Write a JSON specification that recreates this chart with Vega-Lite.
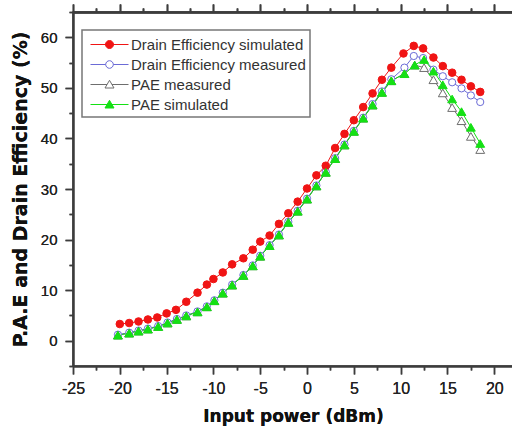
{
  "$schema": "https://vega.github.io/schema/vega-lite/v6.json",
  "width": 440,
  "height": 354,
  "autosize": {"type": "none"},
  "padding": {"left": 73, "top": 12, "right": 0, "bottom": 68},
  "background": "white",
  "config": {"view": {"stroke": "#444444", "strokeWidth": 1.5}, "font": "Liberation Sans"},
  "datasets": {
    "pts": [
      {"s": "Drain Efficiency measured", "x": -20.2, "y": 1.2}, {"s": "Drain Efficiency measured", "x": -19, "y": 1.6}, {"s": "Drain Efficiency measured", "x": -18, "y": 2.0}, {"s": "Drain Efficiency measured", "x": -17, "y": 2.4}, {"s": "Drain Efficiency measured", "x": -15.9, "y": 2.9}, {"s": "Drain Efficiency measured", "x": -14.9, "y": 3.6}, {"s": "Drain Efficiency measured", "x": -13.9, "y": 4.3}, {"s": "Drain Efficiency measured", "x": -12.9, "y": 5.0}, {"s": "Drain Efficiency measured", "x": -11.7, "y": 5.8}, {"s": "Drain Efficiency measured", "x": -10.7, "y": 6.8}, {"s": "Drain Efficiency measured", "x": -9.9, "y": 8.0}, {"s": "Drain Efficiency measured", "x": -9, "y": 9.5}, {"s": "Drain Efficiency measured", "x": -8, "y": 11.1}, {"s": "Drain Efficiency measured", "x": -6.8, "y": 13.0}, {"s": "Drain Efficiency measured", "x": -5.8, "y": 14.9}, {"s": "Drain Efficiency measured", "x": -5, "y": 16.8}, {"s": "Drain Efficiency measured", "x": -4, "y": 18.9}, {"s": "Drain Efficiency measured", "x": -3, "y": 21.0}, {"s": "Drain Efficiency measured", "x": -2, "y": 23.5}, {"s": "Drain Efficiency measured", "x": -1, "y": 25.7}, {"s": "Drain Efficiency measured", "x": 0, "y": 28.1}, {"s": "Drain Efficiency measured", "x": 1, "y": 30.7}, {"s": "Drain Efficiency measured", "x": 2, "y": 33.4}, {"s": "Drain Efficiency measured", "x": 3, "y": 36.1}, {"s": "Drain Efficiency measured", "x": 4, "y": 38.8}, {"s": "Drain Efficiency measured", "x": 5, "y": 41.5}, {"s": "Drain Efficiency measured", "x": 6, "y": 44.1}, {"s": "Drain Efficiency measured", "x": 7, "y": 46.8}, {"s": "Drain Efficiency measured", "x": 8, "y": 49.3}, {"s": "Drain Efficiency measured", "x": 9, "y": 51.7}, {"s": "Drain Efficiency measured", "x": 10.4, "y": 54.0}, {"s": "Drain Efficiency measured", "x": 11.4, "y": 56.3}, {"s": "Drain Efficiency measured", "x": 12.4, "y": 55.9}, {"s": "Drain Efficiency measured", "x": 13.5, "y": 53.6}, {"s": "Drain Efficiency measured", "x": 14.5, "y": 52.3}, {"s": "Drain Efficiency measured", "x": 15.5, "y": 51.1}, {"s": "Drain Efficiency measured", "x": 16.5, "y": 49.9}, {"s": "Drain Efficiency measured", "x": 17.5, "y": 48.5}, {"s": "Drain Efficiency measured", "x": 18.5, "y": 47.2},

      {"s": "PAE measured", "x": -20.2, "y": 1.1}, {"s": "PAE measured", "x": -19, "y": 1.5}, {"s": "PAE measured", "x": -18, "y": 1.9}, {"s": "PAE measured", "x": -17, "y": 2.3}, {"s": "PAE measured", "x": -15.9, "y": 2.8}, {"s": "PAE measured", "x": -14.9, "y": 3.5}, {"s": "PAE measured", "x": -13.9, "y": 4.2}, {"s": "PAE measured", "x": -12.9, "y": 4.9}, {"s": "PAE measured", "x": -11.7, "y": 5.7}, {"s": "PAE measured", "x": -10.7, "y": 6.7}, {"s": "PAE measured", "x": -9.9, "y": 7.9}, {"s": "PAE measured", "x": -9, "y": 9.4}, {"s": "PAE measured", "x": -8, "y": 11.0}, {"s": "PAE measured", "x": -6.8, "y": 12.9}, {"s": "PAE measured", "x": -5.8, "y": 14.8}, {"s": "PAE measured", "x": -5, "y": 16.7}, {"s": "PAE measured", "x": -4, "y": 18.8}, {"s": "PAE measured", "x": -3, "y": 20.9}, {"s": "PAE measured", "x": -2, "y": 23.4}, {"s": "PAE measured", "x": -1, "y": 25.6}, {"s": "PAE measured", "x": 0, "y": 28.0}, {"s": "PAE measured", "x": 1, "y": 30.6}, {"s": "PAE measured", "x": 2, "y": 33.3}, {"s": "PAE measured", "x": 3, "y": 36.0}, {"s": "PAE measured", "x": 4, "y": 38.7}, {"s": "PAE measured", "x": 5, "y": 41.4}, {"s": "PAE measured", "x": 6, "y": 44.0}, {"s": "PAE measured", "x": 7, "y": 46.6}, {"s": "PAE measured", "x": 8, "y": 49.1}, {"s": "PAE measured", "x": 9, "y": 51.4}, {"s": "PAE measured", "x": 10.4, "y": 52.8}, {"s": "PAE measured", "x": 11.5, "y": 54.5}, {"s": "PAE measured", "x": 12.5, "y": 54.0}, {"s": "PAE measured", "x": 13.5, "y": 51.6}, {"s": "PAE measured", "x": 14.5, "y": 49.0}, {"s": "PAE measured", "x": 15.5, "y": 46.1}, {"s": "PAE measured", "x": 16.5, "y": 43.5}, {"s": "PAE measured", "x": 17.5, "y": 40.4}, {"s": "PAE measured", "x": 18.5, "y": 37.8},

      {"s": "Drain Efficiency simulated", "x": -20, "y": 3.3}, {"s": "Drain Efficiency simulated", "x": -19, "y": 3.5}, {"s": "Drain Efficiency simulated", "x": -18, "y": 3.8}, {"s": "Drain Efficiency simulated", "x": -17, "y": 4.2}, {"s": "Drain Efficiency simulated", "x": -16, "y": 4.6}, {"s": "Drain Efficiency simulated", "x": -15, "y": 5.4}, {"s": "Drain Efficiency simulated", "x": -14, "y": 6.1}, {"s": "Drain Efficiency simulated", "x": -12.9, "y": 7.7}, {"s": "Drain Efficiency simulated", "x": -11.7, "y": 9.5}, {"s": "Drain Efficiency simulated", "x": -10.7, "y": 11.1}, {"s": "Drain Efficiency simulated", "x": -10, "y": 12.2}, {"s": "Drain Efficiency simulated", "x": -9, "y": 13.5}, {"s": "Drain Efficiency simulated", "x": -8, "y": 15.1}, {"s": "Drain Efficiency simulated", "x": -6.8, "y": 16.3}, {"s": "Drain Efficiency simulated", "x": -5.8, "y": 18.0}, {"s": "Drain Efficiency simulated", "x": -5, "y": 19.6}, {"s": "Drain Efficiency simulated", "x": -4, "y": 20.8}, {"s": "Drain Efficiency simulated", "x": -3, "y": 23.1}, {"s": "Drain Efficiency simulated", "x": -2, "y": 25.2}, {"s": "Drain Efficiency simulated", "x": -1, "y": 27.5}, {"s": "Drain Efficiency simulated", "x": 0, "y": 30.1}, {"s": "Drain Efficiency simulated", "x": 1, "y": 32.7}, {"s": "Drain Efficiency simulated", "x": 2, "y": 34.6}, {"s": "Drain Efficiency simulated", "x": 3, "y": 38.1}, {"s": "Drain Efficiency simulated", "x": 4, "y": 40.9}, {"s": "Drain Efficiency simulated", "x": 5, "y": 43.6}, {"s": "Drain Efficiency simulated", "x": 6, "y": 46.2}, {"s": "Drain Efficiency simulated", "x": 7, "y": 48.9}, {"s": "Drain Efficiency simulated", "x": 8, "y": 51.6}, {"s": "Drain Efficiency simulated", "x": 9, "y": 54.0}, {"s": "Drain Efficiency simulated", "x": 10.3, "y": 56.8}, {"s": "Drain Efficiency simulated", "x": 11.4, "y": 58.3}, {"s": "Drain Efficiency simulated", "x": 12.4, "y": 57.8}, {"s": "Drain Efficiency simulated", "x": 13.5, "y": 56.0}, {"s": "Drain Efficiency simulated", "x": 14.5, "y": 54.3}, {"s": "Drain Efficiency simulated", "x": 15.5, "y": 53.0}, {"s": "Drain Efficiency simulated", "x": 16.5, "y": 51.6}, {"s": "Drain Efficiency simulated", "x": 17.5, "y": 50.3}, {"s": "Drain Efficiency simulated", "x": 18.5, "y": 49.2},

      {"s": "PAE simulated", "x": -20.2, "y": 1.1}, {"s": "PAE simulated", "x": -19, "y": 1.5}, {"s": "PAE simulated", "x": -18, "y": 1.9}, {"s": "PAE simulated", "x": -17, "y": 2.3}, {"s": "PAE simulated", "x": -15.9, "y": 2.8}, {"s": "PAE simulated", "x": -14.9, "y": 3.5}, {"s": "PAE simulated", "x": -13.9, "y": 4.2}, {"s": "PAE simulated", "x": -12.9, "y": 4.9}, {"s": "PAE simulated", "x": -11.7, "y": 5.7}, {"s": "PAE simulated", "x": -10.7, "y": 6.7}, {"s": "PAE simulated", "x": -9.9, "y": 7.9}, {"s": "PAE simulated", "x": -9, "y": 9.4}, {"s": "PAE simulated", "x": -8, "y": 11.0}, {"s": "PAE simulated", "x": -6.8, "y": 12.9}, {"s": "PAE simulated", "x": -5.8, "y": 14.8}, {"s": "PAE simulated", "x": -5, "y": 16.7}, {"s": "PAE simulated", "x": -4, "y": 18.8}, {"s": "PAE simulated", "x": -3, "y": 20.9}, {"s": "PAE simulated", "x": -2, "y": 23.4}, {"s": "PAE simulated", "x": -1, "y": 25.6}, {"s": "PAE simulated", "x": 0, "y": 28.0}, {"s": "PAE simulated", "x": 1, "y": 30.6}, {"s": "PAE simulated", "x": 2, "y": 33.3}, {"s": "PAE simulated", "x": 3, "y": 36.0}, {"s": "PAE simulated", "x": 4, "y": 38.7}, {"s": "PAE simulated", "x": 5, "y": 41.4}, {"s": "PAE simulated", "x": 6, "y": 44.0}, {"s": "PAE simulated", "x": 7, "y": 46.6}, {"s": "PAE simulated", "x": 8, "y": 49.1}, {"s": "PAE simulated", "x": 9, "y": 51.4}, {"s": "PAE simulated", "x": 10.4, "y": 52.8}, {"s": "PAE simulated", "x": 11.5, "y": 54.5}, {"s": "PAE simulated", "x": 12.5, "y": 55.6}, {"s": "PAE simulated", "x": 13.5, "y": 53.3}, {"s": "PAE simulated", "x": 14.5, "y": 50.6}, {"s": "PAE simulated", "x": 15.5, "y": 47.8}, {"s": "PAE simulated", "x": 16.5, "y": 45.3}, {"s": "PAE simulated", "x": 17.5, "y": 42.2}, {"s": "PAE simulated", "x": 18.5, "y": 39.0}
    ]
  },
  "data": {"name": "pts"},
  "encoding": {
    "x": {
      "field": "x", "type": "quantitative",
      "scale": {"domain": [-25, 22], "nice": false, "zero": false},
      "axis": {
        "title": "Input power (dBm)",
        "values": [-25, -22.5, -20, -17.5, -15, -12.5, -10, -7.5, -5, -2.5, 0, 2.5, 5, 7.5, 10, 12.5, 15, 17.5, 20],
        "labelExpr": "datum.value % 5 == 0 ? '' + datum.value : ''",
        "tickSize": {"condition": {"test": "datum.value % 5 == 0", "value": 8}, "value": 4},
        "grid": false,
        "domainColor": "#3c3c3c", "domainWidth": 2,
        "tickColor": "#3c3c3c", "tickWidth": 1.5,
        "labelFont": "Liberation Sans", "labelFontSize": 16, "labelColor": "#222222", "labelPadding": 6,
        "labelFlush": false, "labelOverlap": false,
        "titleFont": "DejaVu Sans", "titleFontSize": 17, "titleFontWeight": "bold", "titleColor": "#111111", "titlePadding": 12
      }
    },
    "y": {
      "field": "y", "type": "quantitative",
      "scale": {"domain": [-5, 65], "nice": false, "zero": false},
      "axis": {
        "title": "P.A.E and Drain Efficiency (%)",
        "values": [-5, 0, 5, 10, 15, 20, 25, 30, 35, 40, 45, 50, 55, 60, 65],
        "labelExpr": "datum.value % 10 == 0 ? '' + datum.value : ''",
        "tickSize": {"condition": {"test": "datum.value % 10 == 0", "value": 8}, "value": 4},
        "grid": false,
        "domainColor": "#3c3c3c", "domainWidth": 2,
        "tickColor": "#3c3c3c", "tickWidth": 1.5,
        "labelFont": "Liberation Sans", "labelFontSize": 15, "labelColor": "#222222", "labelPadding": 8,
        "labelFlush": false, "labelOverlap": false,
        "titleFont": "DejaVu Sans", "titleFontSize": 19, "titleFontWeight": "bold", "titleColor": "#111111", "titlePadding": 10
      }
    }
  },
  "layer": [
    {
      "mark": {"type": "point", "opacity": 0},
      "encoding": {
        "x": {
          "field": "x", "type": "quantitative",
          "axis": {"orient": "top", "title": null, "values": [], "labels": false, "ticks": false, "grid": false, "domainColor": "#555555", "domainWidth": 1.5}
        },
        "y": {
          "field": "y", "type": "quantitative",
          "axis": {"orient": "right", "title": null, "values": [], "labels": false, "ticks": false, "grid": false, "domainColor": "#555555", "domainWidth": 1.5}
        }
      }
    },
    {
      "mark": {"type": "line", "strokeWidth": 1},
      "encoding": {
        "stroke": {
          "field": "s", "type": "nominal",
          "scale": {"domain": ["Drain Efficiency simulated", "Drain Efficiency measured", "PAE measured", "PAE simulated"], "range": ["#f01414", "#6b6bd6", "#6e6e6e", "#14e014"]},
          "legend": {
            "title": null,
            "orient": "none", "legendX": 9, "legendY": 18,
            "direction": "vertical",
            "padding": 4,
            "rowPadding": 1,
            "symbolSize": 400,
            "symbolStrokeWidth": 1,
            "symbolOffset": 13,
            "labelOffset": 11,
            "labelFont": "Liberation Sans", "labelFontSize": 15, "labelColor": "#333333",
            "labelLimit": 400,
            "strokeColor": "#666666", "fillColor": "#ffffff",
            "encode": {
              "legend": {
                "update": {
                  "stroke": {"value": "#777777"},
                  "strokeWidth": {"value": 1.5},
                  "fill": {"value": "#ffffff"}
                }
              },
              "symbols": {
                "update": {
                  "shape": {"signal": "datum.value == 'Drain Efficiency simulated' ? 'M-1.9,0L1.9,0M0.4,0A0.4,0.4 0 1,1 -0.4,0A0.4,0.4 0 1,1 0.4,0Z' : datum.value == 'Drain Efficiency measured' ? 'M-1.9,0L-0.38,0M0.38,0L1.9,0M0.38,0A0.38,0.38 0 1,1 -0.38,0A0.38,0.38 0 1,1 0.38,0Z' : datum.value == 'PAE measured' ? 'M-1.9,0L-0.25,0M0.25,0L1.9,0M0,-0.42L0.45,0.35L-0.45,0.35Z' : 'M-1.9,0L1.9,0M0,-0.42L0.45,0.35L-0.45,0.35Z'"},
                  "size": {"value": 400},
                  "fill": {"signal": "datum.value == 'Drain Efficiency simulated' ? '#f01414' : datum.value == 'PAE simulated' ? '#14e014' : '#ffffff'"},
                  "stroke": {"signal": "datum.value == 'Drain Efficiency simulated' ? '#f01414' : datum.value == 'Drain Efficiency measured' ? '#6b6bd6' : datum.value == 'PAE measured' ? '#6e6e6e' : '#14e014'"},
                  "opacity": {"value": 1},
                  "strokeWidth": {"value": 1}
                }
              }
            }
          }
        }
      }
    },
    {
      "transform": [{"filter": "datum.s == 'Drain Efficiency measured'"}],
      "mark": {"type": "point", "shape": "circle", "size": 52, "filled": true, "fill": "#ffffff", "stroke": "#6b6bd6", "strokeWidth": 1, "opacity": 1}
    },
    {
      "transform": [{"filter": "datum.s == 'PAE measured'"}],
      "mark": {"type": "point", "shape": "triangle-up", "size": 78, "filled": true, "fill": "#ffffff", "stroke": "#6e6e6e", "strokeWidth": 1, "opacity": 1}
    },
    {
      "transform": [{"filter": "datum.s == 'Drain Efficiency simulated'"}],
      "mark": {"type": "point", "shape": "circle", "size": 58, "filled": true, "fill": "#f01414", "stroke": "#f01414", "strokeWidth": 1, "opacity": 1}
    },
    {
      "transform": [{"filter": "datum.s == 'PAE simulated'"}],
      "mark": {"type": "point", "shape": "triangle-up", "size": 78, "filled": true, "fill": "#14e014", "stroke": "#14e014", "strokeWidth": 1, "opacity": 1}
    }
  ],
  "resolve": {"axis": {"x": "independent", "y": "independent"}}
}
